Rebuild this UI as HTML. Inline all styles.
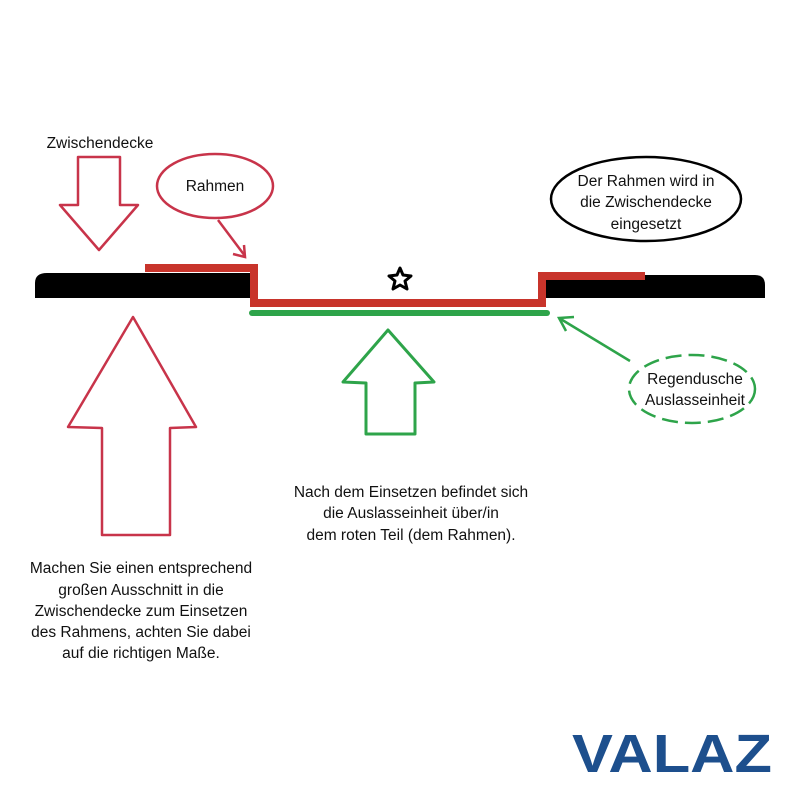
<!DOCTYPE html>
<html><head><meta charset="utf-8"><style>
html,body{margin:0;padding:0;background:#fff}
svg{display:block}
text{font-family:"Liberation Sans",sans-serif;font-size:15.5px;fill:#111}
</style></head><body>
<svg width="800" height="800" viewBox="0 0 800 800">
<rect width="800" height="800" fill="#fff"/>
<path d="M35,298 L35,283 Q35,273 47,273 L252,273 L252,298 Z" fill="#000"/>
<path d="M546,275 L755,275 Q765,275 765,285 L765,298 L546,298 Z" fill="#000"/>
<polyline points="145,268 254,268 254,303 542,303 542,276 645,276" fill="none" stroke="#c8342b" stroke-width="8"/>
<line x1="252" y1="313" x2="547" y2="313" stroke="#2ea44a" stroke-width="6" stroke-linecap="round"/>
<polygon points="400,268 403,275 411,276 405,281 407,289 400,285 393,289 395,281 389,276 397,275" fill="none" stroke="#000" stroke-width="3" stroke-linejoin="round"/>
<text x="100" y="148" text-anchor="middle">Zwischendecke</text>
<polygon points="78,157 120,157 120,205 138,205 99,250 60,205 78,205" fill="none" stroke="#c8344a" stroke-width="2.5" stroke-linejoin="round"/>
<ellipse cx="215" cy="186" rx="58" ry="32" fill="none" stroke="#c8344a" stroke-width="2.5"/>
<text x="215" y="191" text-anchor="middle">Rahmen</text>
<line x1="218" y1="220" x2="245" y2="256" stroke="#c8344a" stroke-width="2.5"/>
<polyline points="233,254 245,257 244,245" fill="none" stroke="#c8344a" stroke-width="2.5"/>
<polygon points="133,317 196,427 170,428 170,535 102,535 102,428 68,427" fill="none" stroke="#c8344a" stroke-width="2.5" stroke-linejoin="round"/>
<polygon points="388,330 434,382 415,383 415,434 366,434 366,383 343,382" fill="none" stroke="#2ea44a" stroke-width="3" stroke-linejoin="round"/>
<ellipse cx="646" cy="199" rx="95" ry="42" fill="none" stroke="#000" stroke-width="2.5"/>
<text x="646" y="186" text-anchor="middle">Der Rahmen wird in</text>
<text x="646" y="207" text-anchor="middle">die Zwischendecke</text>
<text x="646" y="229" text-anchor="middle">eingesetzt</text>
<ellipse cx="692" cy="389" rx="63" ry="34" fill="none" stroke="#2ea44a" stroke-width="2.5" stroke-dasharray="16,7"/>
<text x="695" y="384" text-anchor="middle">Regendusche</text>
<text x="695" y="405" text-anchor="middle">Auslasseinheit</text>
<line x1="630" y1="361" x2="559" y2="318" stroke="#2ea44a" stroke-width="2.5"/>
<polyline points="574,317 559,318 566,331" fill="none" stroke="#2ea44a" stroke-width="2.5"/>
<text x="411" y="497" text-anchor="middle">Nach dem Einsetzen befindet sich</text>
<text x="411" y="518" text-anchor="middle">die Auslasseinheit über/in</text>
<text x="411" y="540" text-anchor="middle">dem roten Teil (dem Rahmen).</text>
<text x="141" y="573" text-anchor="middle">Machen Sie einen entsprechend</text>
<text x="141" y="595" text-anchor="middle">großen Ausschnitt in die</text>
<text x="141" y="616" text-anchor="middle">Zwischendecke zum Einsetzen</text>
<text x="141" y="637" text-anchor="middle">des Rahmens, achten Sie dabei</text>
<text x="141" y="658" text-anchor="middle">auf die richtigen Maße.</text>
<text x="672" y="772" text-anchor="middle" textLength="200" lengthAdjust="spacingAndGlyphs" style="font-size:54px;font-weight:bold;fill:#1d4f8d">VALAZ</text>
</svg>
</body></html>
